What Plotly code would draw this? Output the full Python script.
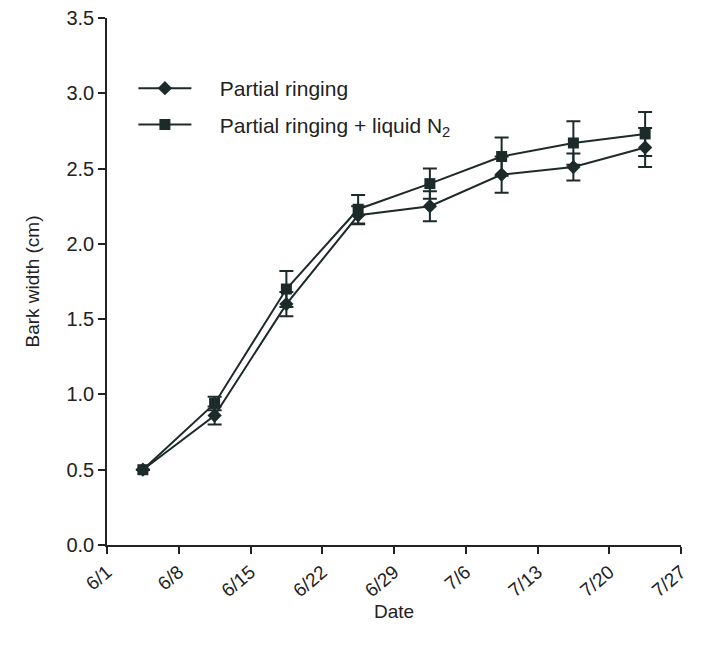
import plotly.graph_objects as go

dates = ["2000-06-04 12:00", "2000-06-11 12:00", "2000-06-18 12:00", "2000-06-25 12:00",
         "2000-07-02 12:00", "2000-07-09 12:00", "2000-07-16 12:00", "2000-07-23 12:00"]
partial = [0.50, 0.86, 1.60, 2.19, 2.25, 2.46, 2.51, 2.64]
partial_err = [0.0, 0.06, 0.08, 0.06, 0.10, 0.12, 0.09, 0.13]
n2 = [0.50, 0.94, 1.70, 2.23, 2.40, 2.58, 2.67, 2.73]
n2_err = [0.0, 0.045, 0.12, 0.095, 0.10, 0.127, 0.145, 0.146]

tick_vals = ["2000-06-01", "2000-06-08", "2000-06-15", "2000-06-22", "2000-06-29",
             "2000-07-06", "2000-07-13", "2000-07-20", "2000-07-27"]
tick_text = ["6/1", "6/8", "6/15", "6/22", "6/29", "7/6", "7/13", "7/20", "7/27"]

C = "#1c2a2a"
FONT = "Liberation Sans, Arial, sans-serif"
GAP = "\u00a0" * 4

fig = go.Figure()
fig.add_trace(go.Scatter(
    x=dates, y=partial, name=GAP + "Partial ringing", mode="lines+markers",
    line=dict(color=C, width=2), marker=dict(symbol="diamond", size=11, color=C),
    error_y=dict(type="data", array=partial_err, color=C, thickness=2, width=7),
    legendgroup="a"))
fig.add_trace(go.Scatter(
    x=dates, y=n2, name=GAP + "Partial ringing + liquid N<sub>2</sub>", mode="lines+markers",
    line=dict(color=C, width=2), marker=dict(symbol="square", size=11, color=C),
    error_y=dict(type="data", array=n2_err, color=C, thickness=2, width=7),
    legendgroup="b"))

fig.update_layout(
    width=696, height=639,
    margin=dict(l=99, r=23, t=10, b=102),
    paper_bgcolor="white", plot_bgcolor="white",
    font=dict(family=FONT, color="#222", size=19),
    showlegend=True,
    legend=dict(x=0.046, y=0.905, xanchor="left", yanchor="top",
                font=dict(size=21, color="#222"), bgcolor="rgba(0,0,0,0)",
                traceorder="grouped", tracegroupgap=6, itemwidth=53),
    xaxis=dict(type="date", range=["2000-06-01", "2000-07-27"],
               tickvals=tick_vals, ticktext=tick_text, tickangle=-40,
               ticks="outside", ticklen=7, tickwidth=1.5, tickcolor="#222",
               showline=True, linecolor="#222", linewidth=1.5,
               showgrid=False, zeroline=False, ticklabeloverflow="allow",
               automargin=False,
               tickfont=dict(size=19),
               title=dict(text="Date", font=dict(size=19), standoff=0)),
    yaxis=dict(range=[0, 3.5], dtick=0.5, tickformat=".1f",
               ticks="outside", ticklen=7, tickwidth=1.5, tickcolor="#222",
               showline=True, linecolor="#222", linewidth=1.5,
               showgrid=False, zeroline=False, ticklabeloverflow="allow",
               automargin=False,
               tickfont=dict(size=20),
               title=dict(text="Bark width (cm)", font=dict(size=19), standoff=22)),
)

fig.write_html("out.html")
